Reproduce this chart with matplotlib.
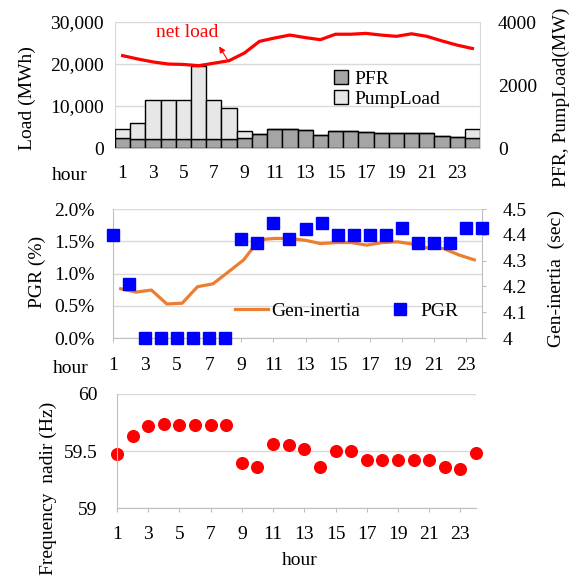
import matplotlib
matplotlib.use('Agg')
import matplotlib.pyplot as plt
import numpy as np
from matplotlib.ticker import PercentFormatter, StrMethodFormatter, FixedFormatter
from matplotlib.lines import Line2D

plt.rcParams['font.family'] = ['Liberation Serif', 'DejaVu Serif']
plt.rcParams['font.size'] = 14

# ---- data ----
hours = np.arange(1, 25)
tick_hours = np.arange(1, 24, 2)

net_load = [22000, 21200, 20500, 20000, 19900, 19600, 20200, 20800,
            22600, 25400, 26200, 26900, 26300, 25800, 27100, 27100,
            27300, 26900, 26600, 27200, 26600, 25500, 24500, 23700]
pfr = [310, 290, 275, 275, 275, 295, 295, 275, 330, 430, 590, 590,
       565, 415, 545, 545, 510, 480, 465, 485, 465, 390, 360, 310]
pump_load = [290, 515, 1255, 1255, 1255, 2305, 1235, 995, 220, 0, 0, 0,
             0, 0, 0, 0, 0, 0, 0, 0, 0, 0, 0, 290]

gen_inertia = [4.191, 4.178, 4.186, 4.132, 4.135, 4.199, 4.210, 4.256,
               4.303, 4.381, 4.386, 4.386, 4.379, 4.366, 4.370, 4.370,
               4.360, 4.370, 4.373, 4.364, 4.348, 4.347, 4.322, 4.303]
pgr = [1.60, 0.84, 0, 0, 0, 0, 0, 0, 1.53, 1.48, 1.79, 1.53,
       1.69, 1.79, 1.60, 1.60, 1.60, 1.60, 1.70, 1.48, 1.48, 1.48, 1.70, 1.70]

freq_nadir = [59.475, 59.635, 59.72, 59.735, 59.732, 59.732, 59.732, 59.729,
              59.397, 59.359, 59.565, 59.553, 59.521, 59.359, 59.50, 59.497,
              59.42, 59.42, 59.42, 59.42, 59.42, 59.362, 59.344, 59.479]

inertia_ticks = [4.0, 4.1, 4.2, 4.3, 4.4, 4.5]
inertia_labels = ['4', '4.1', '4.2', '4.3', '4.4', '4.5']
nadir_ticks = [59, 59.5, 60]
nadir_labels = ['59', '59.5', '60']

grid_c = '#d9d9d9'
axis_c = '#bfbfbf'

fig = plt.figure(figsize=(5.73, 5.8), dpi=100)

# ---- panel 1: load / PFR / pump load ----
pos1 = [0.2007, 0.7448, 0.637, 0.2172]
ax1 = fig.add_axes(pos1)
ax1.set_xlim(0.5, 24.5)
ax1.set_ylim(0, 30000)
ax1.set_yticks([0, 10000, 20000, 30000])
ax1.yaxis.set_major_formatter(StrMethodFormatter('{x:,.0f}'))
ax1.grid(axis='y', color=grid_c, lw=1)
ax1.set_xticks(tick_hours)
ax1.tick_params(axis='x', length=0, pad=12.5)
ax1.tick_params(axis='y', length=0, pad=8)
for s in ['top', 'right']:
    ax1.spines[s].set_visible(False)
ax1.spines['left'].set_color(grid_c)
ax1.spines['bottom'].set_color(axis_c)
ax1.set_ylabel('Load (MWh)')
ax1.yaxis.set_label_coords(-0.216, 0.40)
ax1.text(-0.074, -0.215, 'hour', transform=ax1.transAxes, ha='right', va='center')

ax1r = ax1.twinx()
ax1r.bar(hours, pfr, width=1, color='#a5a5a5', edgecolor='black', lw=1, label='PFR')
ax1r.bar(hours, pump_load, bottom=pfr, width=1, color='#e7e7e7', edgecolor='black',
         lw=1, label='PumpLoad')
ax1r.set_ylim(0, 4000)
ax1r.set_yticks([0, 2000, 4000])
ax1r.tick_params(axis='y', length=0, pad=13)
for s in ['top', 'left', 'bottom']:
    ax1r.spines[s].set_visible(False)
ax1r.spines['right'].set_color(grid_c)
ax1r.set_ylabel('PFR, PumpLoad(MW)')
ax1r.yaxis.set_label_coords(1.2, 0.40)
ax1r.legend(loc='upper left', bbox_to_anchor=(0.6, 0.62), frameon=False,
            handlelength=0.7, handleheight=0.7, handletextpad=0.35,
            labelspacing=0.15, borderaxespad=0, borderpad=0)

ax1l = ax1.twinx()
ax1l.set_ylim(0, 30000)
ax1l.axis('off')
ax1l.plot(hours, net_load, color='red', lw=2.3)
ax1l.text(5.24, 27600, 'net load', color='red', ha='center', va='center')
ax1l.annotate('', xy=(7.35, 24200), xytext=(7.9, 21000),
              arrowprops=dict(arrowstyle='-|>', color='red', lw=0.8,
                              mutation_scale=9, shrinkA=0, shrinkB=0))

# ---- panel 2: PGR / gen-inertia ----
pos2 = [0.1972, 0.4172, 0.644, 0.2224]
ax2 = fig.add_axes(pos2)
ax2.set_xlim(1, 24)
ax2.set_ylim(0, 2)
ax2.set_yticks([0, 0.5, 1.0, 1.5, 2.0])
ax2.yaxis.set_major_formatter(PercentFormatter(xmax=100, decimals=1))
ax2.grid(axis='y', color=grid_c, lw=1)
ax2.set_xticks(tick_hours)
ax2.tick_params(axis='x', length=3, color=axis_c, pad=10.5)
ax2.tick_params(axis='y', length=0, pad=13)
for s in ['top', 'right']:
    ax2.spines[s].set_visible(False)
ax2.spines['left'].set_color(axis_c)
ax2.spines['bottom'].set_color(axis_c)
ax2.set_ylabel('PGR (%)')
ax2.yaxis.set_label_coords(-0.182, 0.51)
ax2.text(-0.065, -0.235, 'hour', transform=ax2.transAxes, ha='right', va='center')

ax2r = fig.add_axes(pos2)
ax2r.patch.set_visible(False)
ax2r.set_xlim(0.5, 24.5)
ax2r.set_ylim(4.0, 4.5)
ax2r.plot(hours, gen_inertia, color='#ed7d31', lw=2.3)
ax2r.xaxis.set_visible(False)
ax2r.yaxis.tick_right()
ax2r.yaxis.set_label_position('right')
ax2r.set_yticks(inertia_ticks)
ax2r.yaxis.set_major_formatter(FixedFormatter(inertia_labels))
ax2r.tick_params(axis='y', length=3, color=axis_c, pad=12)
for s in ['top', 'left', 'bottom']:
    ax2r.spines[s].set_visible(False)
ax2r.spines['right'].set_color(axis_c)
ax2r.set_ylabel('Gen-inertia  (sec)')
ax2r.yaxis.set_label_coords(1.179, 0.46)

ax2s = fig.add_axes(pos2)
ax2s.set_xlim(1, 24)
ax2s.set_ylim(0, 2)
ax2s.axis('off')
ax2s.plot(hours, pgr, ls='none', marker='s', ms=8.4, color='#0000ff', clip_on=False)

handles = [Line2D([], [], color='#ed7d31', lw=2.3),
           Line2D([], [], ls='none', marker='s', ms=8.4, color='#0000ff')]
ax2s.legend(handles, ['Gen-inertia', 'PGR'], loc='center left',
            bbox_to_anchor=(0.33, 0.21), ncol=2, frameon=False,
            handlelength=1.7, handletextpad=0.2, columnspacing=1.2,
            borderaxespad=0, borderpad=0)

# ---- panel 3: frequency nadir ----
pos3 = [0.2042, 0.1241, 0.6265, 0.1966]
ax3 = fig.add_axes(pos3)
ax3.set_xlim(1, 24)
ax3.set_ylim(59, 60)
ax3.set_yticks(nadir_ticks)
ax3.yaxis.set_major_formatter(FixedFormatter(nadir_labels))
ax3.grid(axis='y', color=grid_c, lw=1)
ax3.set_xticks(tick_hours)
ax3.tick_params(axis='x', length=3, color=axis_c, pad=10)
ax3.tick_params(axis='y', length=0, pad=14)
for s in ['top', 'right']:
    ax3.spines[s].set_visible(False)
ax3.spines['left'].set_color(axis_c)
ax3.spines['bottom'].set_color(axis_c)
ax3.plot(hours, freq_nadir, ls='none', marker='o', ms=8.4, color='#ff0000', clip_on=False)
ax3.set_ylabel('Frequency  nadir (Hz)')
ax3.yaxis.set_label_coords(-0.168, 0.175)
ax3.text(0.51, -0.456, 'hour', transform=ax3.transAxes, ha='center', va='center')

fig.savefig('out.png', dpi=100)
